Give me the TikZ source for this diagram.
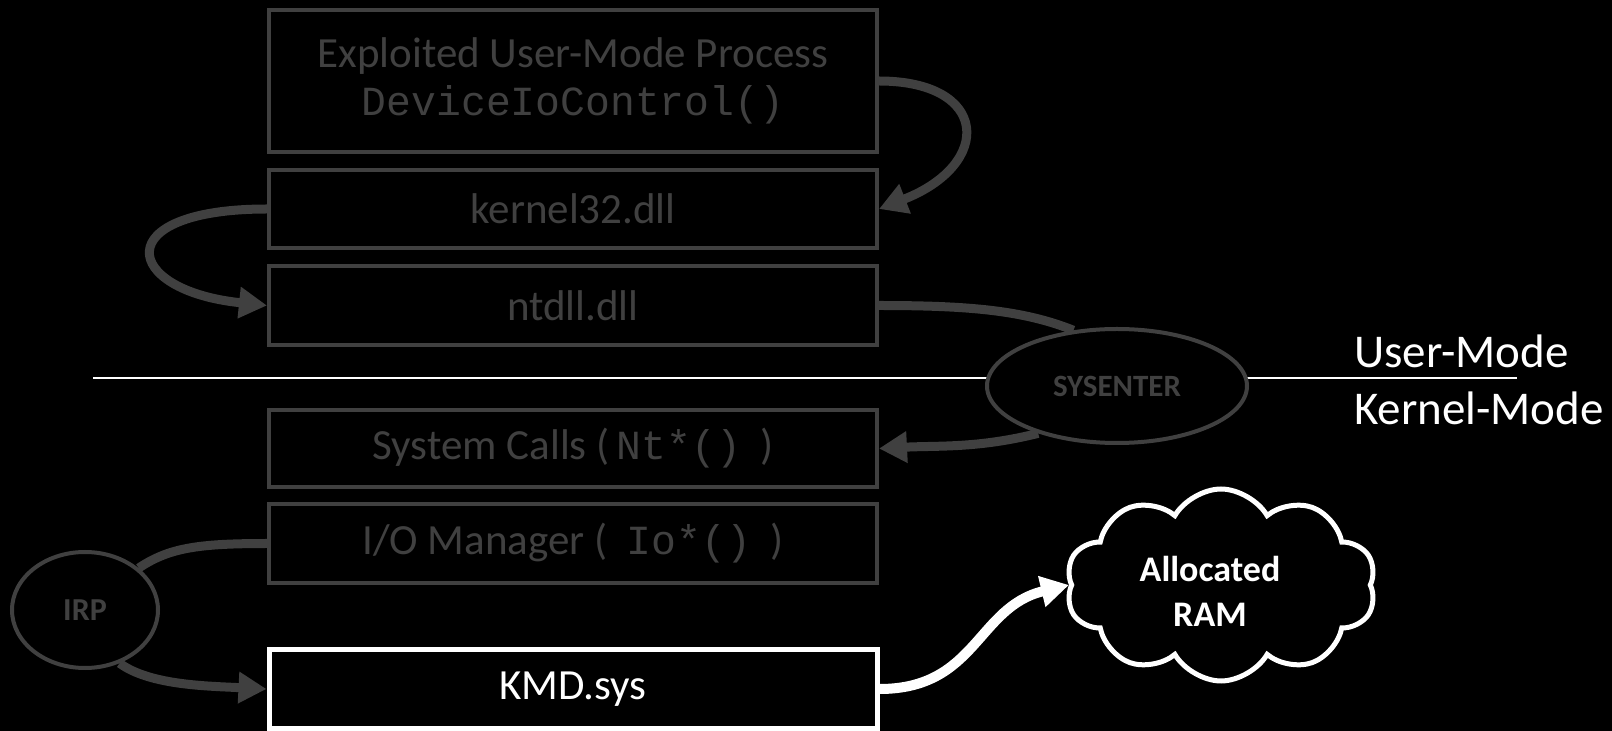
\documentclass[tikz,border=0pt]{standalone}
\usepackage{fontspec}
\setmainfont{Carlito}
\newfontfamily\monof{Liberation Mono}
\usetikzlibrary{arrows.meta,shapes.geometric,shapes.symbols}
\definecolor{gc}{RGB}{64,64,64}
\begin{document}
\begin{tikzpicture}[x=0.5pt,y=-0.5pt,
  box/.style={draw=gc, line width=2pt, minimum width=304pt, inner sep=0pt,
    text=gc, font=\fontsize{21.5}{24}\selectfont, align=center},
  kbox/.style={box, draw=white, text=white, line width=2.5pt},
  bubble/.style={ellipse, draw=gc, line width=2pt, fill=black, inner sep=0pt,
    text=gc, font=\bfseries},
  tip/.style={-{Triangle[length=14pt,width=15pt]}},
  arr/.style={draw=gc, line width=4.5pt, tip},
  link/.style={draw=gc, line width=4.5pt},
  warr/.style={draw=white, line width=5pt, tip},
  mode/.style={anchor=base west, text=white, font=\fontsize{23.5}{26}\selectfont}]
\fill[black] (0,0) rectangle (1612,731);
\useasboundingbox (0,0) rectangle (1612,731);

\coordinate (sepL) at (93,378);
\coordinate (sepR) at (1517,378);
\draw[white, line width=1pt] (sepL) -- (sepR);

\newcommand\mtxt[1]{{\monof\fontsize{20.7}{24}\selectfont #1}}

\node[box, minimum height=71pt] (proc) at (573,81)
  {Exploited User-Mode Process\\\mtxt{DeviceIoControl()}};
\node[box, minimum height=39pt] (k32) at (573,209) {kernel32.dll};
\node[box, minimum height=39.5pt] (ntdll) at (573,305.5) {ntdll.dll};
\node[box, minimum height=38.5pt] (sc) at (573,448.5)
  {System Calls (\,\mtxt{Nt*()}\ \ )};
\node[box, minimum height=39.5pt] (io) at (573,543.5)
  {I/O Manager (\ \ \mtxt{Io*()}\ \ )};
\node[kbox, minimum height=39pt] (kmd) at (573,689) {KMD.sys};

\node[bubble, minimum width=130pt, minimum height=57pt,
  font=\bfseries\fontsize{15.5}{18}\selectfont] (sys) at (1117,386) {SYSENTER};
\node[bubble, minimum width=73pt, minimum height=58pt,
  font=\bfseries\fontsize{16}{18}\selectfont] (irp) at (85,610) {IRP};

\node[cloud, cloud puffs=10, cloud puff arc=120, cloud ignores aspect,
  draw=white, line width=2.5pt, fill=black,
  minimum width=155pt, minimum height=96pt, inner sep=0pt] (ram) at (1221,585) {};
\node[text=white, align=center, inner sep=0pt,
  font=\bfseries\fontsize{18}{22.5}\selectfont] (ramtxt) at (1210,591)
  {Allocated\\RAM};

\node[mode] (um) at (1347,368) {User-Mode};
\node[mode] (km) at (1347,425) {Kernel-Mode};

\draw[arr] (proc.east) .. controls +(110,0) and +(115,-45) .. (k32.east);
\draw[arr] (k32.west) .. controls +(-160,0) and +(-145,-15) .. (ntdll.west);
\draw[link] (ntdll.east) .. controls +(90,0) and +(-50,-20) .. (sys.128);
\draw[arr] (sys.211) .. controls +(-60,15) and +(60,-3) .. (sc.east);
\draw[link] (io.west) .. controls +(-70,0) and +(30,-20) .. (irp.38);
\draw[arr] (irp.303) .. controls +(30,22) and +(-60,-3) .. (kmd.west);
\draw[warr] (kmd.east) .. controls +(97,0) and +(-92,22) .. (ram.west);
\end{tikzpicture}
\end{document}
